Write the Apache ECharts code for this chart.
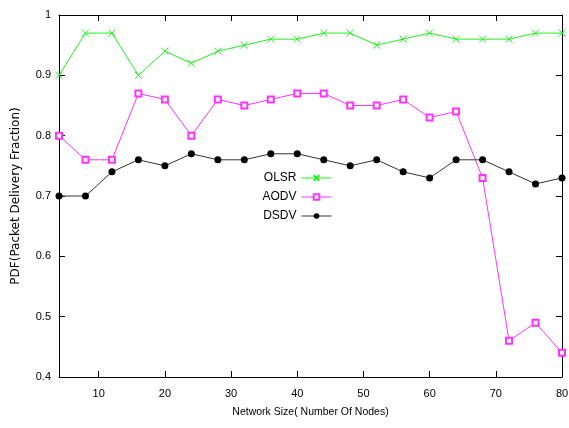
<!DOCTYPE html>
<html>
<head>
<meta charset="utf-8">
<script src="https://cdn.jsdelivr.net/npm/echarts@6/dist/echarts.min.js"></script>
<style>
  html, body { margin: 0; padding: 0; background: #fff; }
  #chart { width: 569px; height: 428px; }
</style>
</head>
<body>
<div id="chart"></div>
<script>
// network sizes (nodes)
var nodes = [4, 8, 12, 16, 20, 24, 28, 32, 36, 40, 44, 48, 52, 56, 60, 64, 68, 72, 76, 80];

// packet delivery fraction per protocol
var olsr = [0.90, 0.97, 0.97, 0.90, 0.94, 0.92, 0.94, 0.95, 0.96, 0.96, 0.97, 0.97, 0.95, 0.96, 0.97, 0.96, 0.96, 0.96, 0.97, 0.97];
var aodv = [0.80, 0.76, 0.76, 0.87, 0.86, 0.80, 0.86, 0.85, 0.86, 0.87, 0.87, 0.85, 0.85, 0.86, 0.83, 0.84, 0.73, 0.46, 0.49, 0.44];
var dsdv = [0.70, 0.70, 0.74, 0.76, 0.75, 0.77, 0.76, 0.76, 0.77, 0.77, 0.76, 0.75, 0.76, 0.74, 0.73, 0.76, 0.76, 0.74, 0.72, 0.73];

var xTicks = [10, 20, 30, 40, 50, 60, 70, 80];

var FONT = 'Liberation Sans';

function pairs(vals) {
    return vals.map(function(v, i) { return [nodes[i], v]; });
}

var chart = echarts.init(document.getElementById('chart'));

var axisLine = { show: true, lineStyle: { color: '#000', width: 1 } };
var tick = { show: true, inside: true, length: 6, lineStyle: { color: '#000' } };

chart.setOption({
    animation: false,
    backgroundColor: '#fff',
    textStyle: { fontFamily: FONT },
    grid: { left: 59, right: 7, top: 15, bottom: 51, outerBoundsMode: 'none', containLabel: false },
    legend: {
        orient: 'vertical',
        right: 232,
        top: 167,
        align: 'right',
        itemWidth: 30,
        itemHeight: 7,
        itemGap: 7,
        lineStyle: { width: 1 },
        textStyle: { fontFamily: FONT, fontSize: 12, color: '#000' },
        data: ['OLSR', 'AODV', 'DSDV']
    },
    xAxis: [{
        type: 'value',
        min: 4,
        max: 80,
        name: 'Network Size( Number Of Nodes)',
        nameLocation: 'middle',
        nameGap: 30,
        nameTextStyle: { fontFamily: FONT, fontSize: 10.5, color: '#000' },
        axisLine: axisLine,
        axisTick: Object.assign({ customValues: xTicks }, tick),
        axisLabel: { customValues: xTicks, fontFamily: FONT, fontSize: 11, color: '#000', margin: 11 },
        splitLine: { show: false }
    }, {
        type: 'value',
        position: 'top',
        min: 4,
        max: 80,
        axisLine: axisLine,
        axisTick: Object.assign({ customValues: xTicks }, tick),
        axisLabel: { show: false },
        splitLine: { show: false }
    }],
    yAxis: [{
        type: 'value',
        min: 0.4,
        max: 1,
        interval: 0.1,
        name: 'PDF(Packet Delivery Fraction)',
        nameLocation: 'middle',
        nameGap: 37,
        nameTextStyle: { fontFamily: 'DejaVu Sans', fontSize: 12, color: '#000' },
        axisLine: axisLine,
        axisTick: tick,
        axisLabel: {
            fontFamily: FONT, fontSize: 11, color: '#000', margin: 8,
            formatter: function(v) { return String(Math.round(v * 10) / 10); }
        },
        splitLine: { show: false }
    }, {
        type: 'value',
        position: 'right',
        min: 0.4,
        max: 1,
        interval: 0.1,
        axisLine: axisLine,
        axisTick: tick,
        axisLabel: { show: false },
        splitLine: { show: false }
    }],
    series: [{
        name: 'OLSR',
        type: 'line',
        data: pairs(olsr),
        symbol: 'path://M0,0L10,10M10,0L0,10',
        symbolSize: 7,
        color: '#22ee22',
        lineStyle: { color: '#22ee22', width: 1 },
        itemStyle: { color: 'none', borderColor: '#22ee22', borderWidth: 1 }
    }, {
        name: 'AODV',
        type: 'line',
        data: pairs(aodv),
        symbol: 'emptyRect',
        symbolSize: 6,
        color: '#ff33ff',
        lineStyle: { color: '#ff33ff', width: 1 },
        itemStyle: { color: '#ff33ff', borderColor: '#ff33ff', borderWidth: 1 }
    }, {
        name: 'DSDV',
        type: 'line',
        data: pairs(dsdv),
        symbol: 'circle',
        symbolSize: 7,
        color: '#000',
        lineStyle: { color: '#333', width: 1 },
        itemStyle: { color: '#000' }
    }]
});
</script>
</body>
</html>
